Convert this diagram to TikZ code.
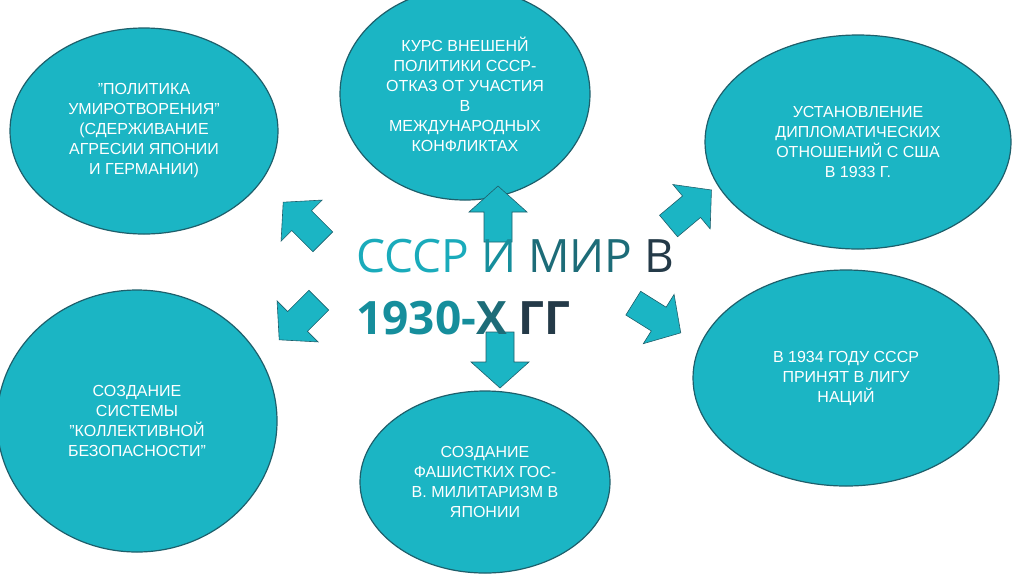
\documentclass[tikz,border=0pt]{standalone}
\usepackage{fontspec}
\setmainfont{Liberation Sans}
\newfontfamily\titlefont{Open Sans}
\usetikzlibrary{shapes.geometric}
\definecolor{teal1}{HTML}{1BB5C4}
\definecolor{edge1}{HTML}{1E5F6B}
\definecolor{tA}{HTML}{1AABBB}
\definecolor{tB}{HTML}{168E9C}
\definecolor{tC}{HTML}{1D6C78}
\definecolor{tD}{HTML}{243A48}
\newcommand\qq{\char"0022\relax}
\tikzset{
  bub/.style={ellipse,fill=teal1,draw=edge1,line width=1.2pt,text=white,align=center,font=\fontsize{16}{20}\selectfont},
  arr/.style={fill=teal1,draw=edge1,line width=0.6pt}
}
\newcommand\blockarrow[3]{% x,y,angle
  \begin{scope}[shift={(#1,#2)},rotate=#3]
  \draw[arr] (-28,-14) -- (2,-14) -- (2,-29) -- (28,0) -- (2,29) -- (2,14) -- (-28,14) -- cycle;
  \end{scope}}
\begin{document}
\begin{tikzpicture}[x=1pt,y=-1pt]
\useasboundingbox (0,0) rectangle (1024,574);
\fill[white] (0,0) rectangle (1024,574);
\node[bub,minimum width=268pt,minimum height=206pt] (e1) at (144,131) {\qq ПОЛИТИКА\\УМИРОТВОРЕНИЯ\qq\\(СДЕРЖИВАНИЕ\\АГРЕСИИ ЯПОНИИ\\И ГЕРМАНИИ)};
\node[bub,minimum width=250pt,minimum height=212pt] (e2) at (465,94) {КУРС ВНЕШЕНЙ\\ПОЛИТИКИ СССР-\\ОТКАЗ ОТ УЧАСТИЯ\\В\\МЕЖДУНАРОДНЫХ\\КОНФЛИКТАХ};
\node[bub,minimum width=306pt,minimum height=214pt] (e3) at (858,142) {УСТАНОВЛЕНИЕ\\ДИПЛОМАТИЧЕСКИХ\\ОТНОШЕНИЙ С США\\В 1933 Г.};
\node[bub,minimum width=280pt,minimum height=262pt] (e4) at (137,421) {СОЗДАНИЕ\\СИСТЕМЫ\\\qq КОЛЛЕКТИВНОЙ\\БЕЗОПАСНОСТИ\qq};
\node[bub,minimum width=250pt,minimum height=182pt] (e5) at (485,482) {СОЗДАНИЕ\\ФАШИСТКИХ ГОС-\\В. МИЛИТАРИЗМ В\\ЯПОНИИ};
\node[bub,minimum width=306pt,minimum height=216pt] (e6) at (846,378) {В 1934 ГОДУ СССР\\ПРИНЯТ В ЛИГУ\\НАЦИЙ};
\blockarrow{498}{214}{90}
\blockarrow{500}{360}{-90}
\blockarrow{303}{222}{135}
\blockarrow{690}{208}{40}
\blockarrow{299}{320}{-135}
\blockarrow{657}{318}{-32}
\node[anchor=west,inner sep=0pt,font=\titlefont\fontsize{46}{46}\selectfont] (t1) at (356,256) {\textcolor{tA}{СССР }\textcolor{tB}{И }\textcolor{tC}{МИР }\textcolor{tD}{В}};
\node[anchor=west,inner sep=0pt,font=\titlefont\bfseries\fontsize{46}{46}\selectfont] (t2) at (356,318) {\textcolor{tB}{1930-}\textcolor{tC}{Х }\textcolor{tD}{ГГ}};
\end{tikzpicture}
\end{document}
